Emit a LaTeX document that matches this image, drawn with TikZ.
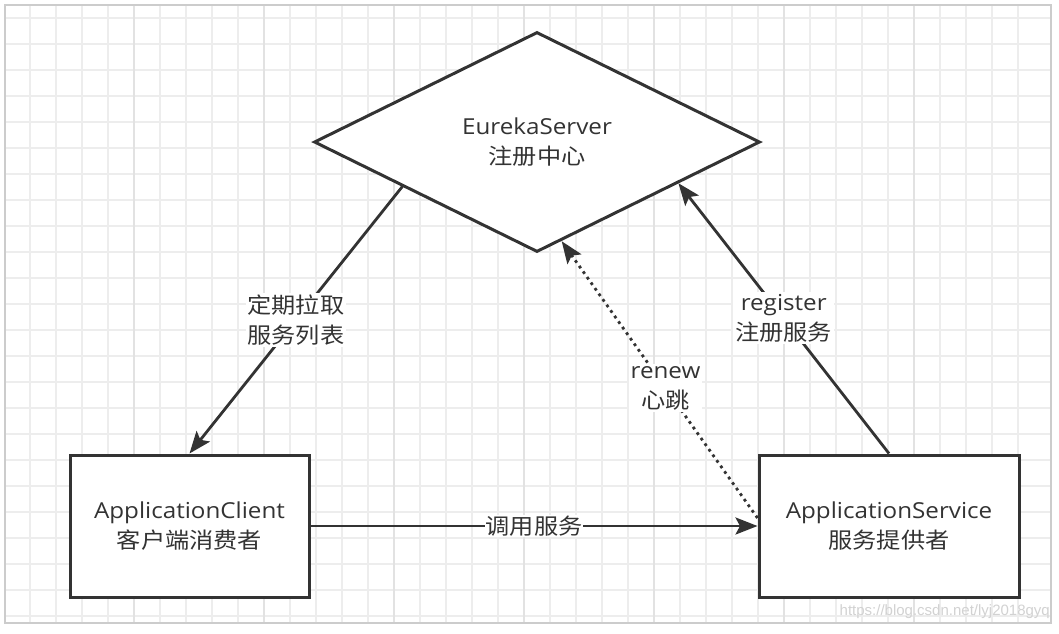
\documentclass[tikz,border=0pt]{standalone}
\usepackage{fontspec}
\setmainfont{Open Sans}[FakeStretch=1.1]
\newfontfamily\cjk{Noto Sans CJK SC}[FakeStretch=1.1]
\newfontfamily\wmfont{Liberation Sans}
\usetikzlibrary{shapes.geometric, arrows.meta, positioning, calc}
\definecolor{ink}{HTML}{333333}
\definecolor{gridline}{HTML}{EDEDED}
\definecolor{gridmajor}{HTML}{E2E2E2}
\definecolor{framegray}{HTML}{CCCCCC}

\tikzset{
  box/.style={draw=ink, line width=3pt, fill=white, minimum width=239pt, minimum height=142pt,
    align=center, text=ink, font=\fontsize{22}{30}\selectfont},
  hub/.style={diamond, draw=ink, line width=3pt, fill=white, minimum width=446pt, minimum height=220pt,
    inner sep=0pt, align=center, text=ink, font=\fontsize{22}{30}\selectfont},
  link/.style={draw=ink, line width=2.8pt, -{Stealth[length=22pt,width=17pt,inset=4.5pt]}},
  tag/.style={fill=white, inner sep=2pt, align=center, text=ink, font=\fontsize{22}{30}\selectfont},
}

\begin{document}
\begin{tikzpicture}[x=1pt, y=-1pt]
\useasboundingbox (0,0) rectangle (1059,633);
\fill[white] (0,0) rectangle (1059,633);
% grid
\foreach \gx in {30,56,...,1040} \draw[gridline, line width=1.2pt] (\gx,5) -- (\gx,623);
\foreach \gy in {18,44,...,620} \draw[gridline, line width=1.2pt] (5,\gy) -- (1051,\gy);
\foreach \gx in {134,264,...,1040} \draw[gridmajor, line width=1.2pt] (\gx,5) -- (\gx,623);
\draw[framegray, line width=1.5pt] (5,5) rectangle (1051,623);

% nodes
\node[hub] (server) at (537,142) {EurekaServer\\{\cjk 注册中心}};
\node[box] (client) at (189.5,526) {ApplicationClient\\{\cjk 客户端消费者}};
\node[box, minimum width=260pt] (service) at (889,526) {ApplicationService\\{\cjk 服务提供者}};

% connectors
\draw[link] ($(server.west)!0.4!(server.south)$) -- node[tag] {{\cjk 定期拉取}\\{\cjk 服务列表}} (client.north);
\draw[link] (service.north) -- node[tag] {register\\{\cjk 注册服务}} ($(server.south)!0.63!(server.east)$);
\draw[link, dash pattern=on 2.8pt off 4pt] ([yshift=8pt]service.west) -- node[tag, pos=0.47] {renew\\{\cjk 心跳}} ($(server.south)!0.11!(server.east)$);
\draw[link] (client.east) -- node[tag, inner sep=1pt] {{\cjk 调用服务}} (service.west);

% watermark
\node[anchor=east, text=gray!35, font=\wmfont\fontsize{15}{18}\selectfont, inner sep=0pt] (mark) at (1050,612) {https://blog.csdn.net/lyj2018gyq};
\end{tikzpicture}
\end{document}
